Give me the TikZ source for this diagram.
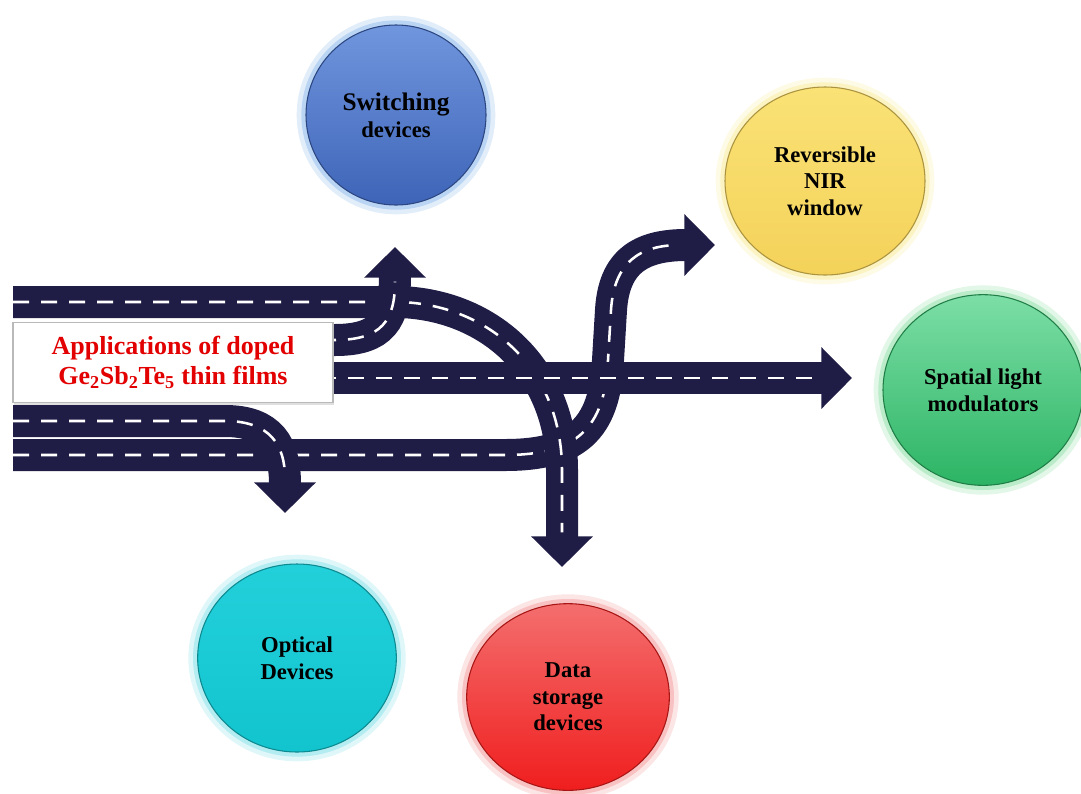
\documentclass[tikz,border=0pt]{standalone}
\usepackage{fontspec}
\setmainfont{Liberation Serif}
\usetikzlibrary{arrows.meta,shapes.geometric,shadows}

\definecolor{roadnavy}{RGB}{31,29,70}
\definecolor{titlered}{RGB}{226,0,0}
\definecolor{swtop}{RGB}{112,150,222}
\definecolor{swbot}{RGB}{62,100,184}
\definecolor{swglow}{RGB}{160,196,240}
\definecolor{nirtop}{RGB}{250,226,118}
\definecolor{nirbot}{RGB}{244,210,90}
\definecolor{nirglow}{RGB}{250,238,170}
\definecolor{slmtop}{RGB}{124,222,166}
\definecolor{slmbot}{RGB}{44,180,100}
\definecolor{slmglow}{RGB}{160,228,180}
\definecolor{optop}{RGB}{34,208,218}
\definecolor{opbot}{RGB}{18,196,206}
\definecolor{opglow}{RGB}{150,228,236}
\definecolor{dstop}{RGB}{244,110,110}
\definecolor{dsbot}{RGB}{240,30,30}
\definecolor{dsglow}{RGB}{246,170,170}

\tikzset{
  road/.style={draw=roadnavy, line width=24pt,
    -{Triangle[width=45pt,length=23pt]},
    postaction={draw=white, line width=1.9pt, dash pattern=on 12pt off 9pt, shorten >=26pt, -}},
  bubble/.style n args={3}{ellipse, inner sep=0pt, align=center,
    font=\bfseries\fontsize{17}{20}\selectfont,
    top color=#1, bottom color=#2, draw=#2!70!black, line width=0.8pt,
    preaction={draw=#3, line width=14pt, opacity=0.3},
    preaction={draw=#3, line width=7pt, opacity=0.6}},
  titlebox/.style={rectangle, fill=white, draw=gray!55, line width=1.3pt,
    minimum width=240pt, minimum height=60pt, align=center, text=titlered,
    font=\bfseries\fontsize{19.5}{22.5}\selectfont,
    drop shadow={shadow xshift=1pt, shadow yshift=-1.5pt, fill=gray!50}}
}

\begin{document}
\begin{tikzpicture}[x=0.75pt,y=-0.75pt]
\useasboundingbox (0,0) rectangle (1081,793);

% road ends
\coordinate (topIn) at (13,302);
\coordinate (midIn) at (320,378);
\coordinate (branchIn) at (320,340);
\coordinate (lowIn) at (13,421);
\coordinate (baseIn) at (13,455);
\coordinate (swTip) at (395,247);
\coordinate (nirTip) at (715,245);
\coordinate (slmTip) at (852,378);
\coordinate (opTip) at (285,513);
\coordinate (dsTip) at (562,567);

% roads
\draw[road] (baseIn) -- (505,455) .. controls (575,455) and (605,430) .. (608,360)
  -- (611,310) .. controls (614,262) and (640,245) .. (nirTip);
\draw[road] (lowIn) -- (225,421) .. controls (270,421) and (285,445) .. (opTip);
\draw[road] (topIn) -- (400,302) .. controls (490,305) and (562,370) .. (562,470) -- (dsTip);
\draw[road] (midIn) -- (slmTip);
\draw[road] (branchIn) -- (335,340) .. controls (382,340) and (395,320) .. (swTip);

\node[titlebox] (title) at (173,362.5) {Applications of doped\\Ge\textsubscript{2}Sb\textsubscript{2}Te\textsubscript{5} thin films};

% application bubbles
\node[bubble={swtop}{swbot}{swglow}, minimum width=135pt, minimum height=135pt] (switch) at (396,115)
  {{\fontsize{19}{20}\selectfont Switching}\\devices};
\node[bubble={nirtop}{nirbot}{nirglow}, minimum width=150pt, minimum height=141pt] (nir) at (825,181)
  {Reversible\\NIR\\window};
\node[bubble={slmtop}{slmbot}{slmglow}, minimum width=150pt, minimum height=143pt] (slm) at (983,390)
  {Spatial light\\modulators};
\node[bubble={optop}{opbot}{opglow}, minimum width=149pt, minimum height=141pt] (optical) at (297,658)
  {Optical\\Devices};
\node[bubble={dstop}{dsbot}{dsglow}, minimum width=152pt, minimum height=140pt] (storage) at (568,697)
  {Data\\storage\\devices};
\end{tikzpicture}
\end{document}
